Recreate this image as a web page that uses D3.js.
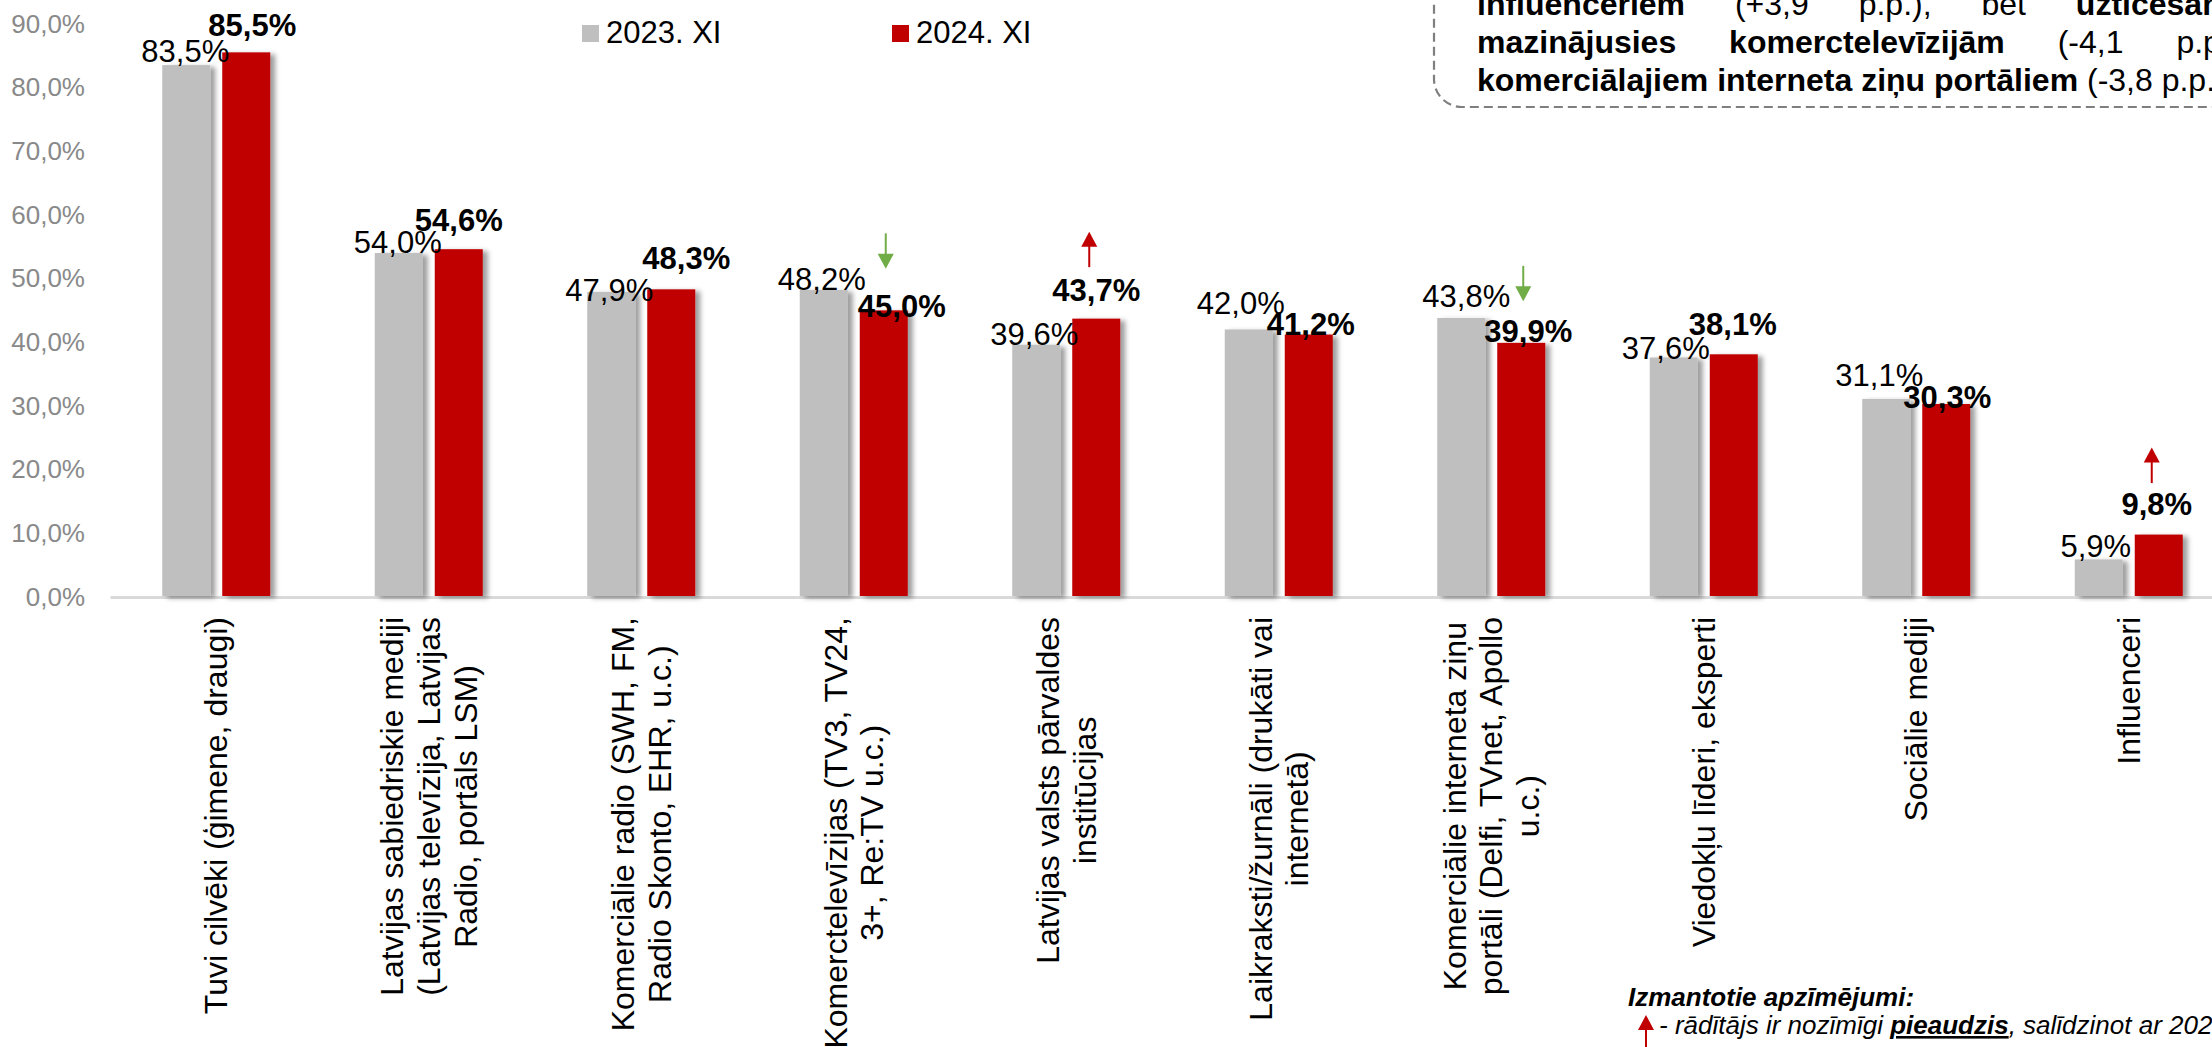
<!DOCTYPE html>
<html>
<head>
<meta charset="utf-8">
<script src="https://cdn.jsdelivr.net/npm/d3@7"></script>
<style>
  html, body { margin: 0; padding: 0; background: #ffffff; }
  svg { display: block; font-family: "Liberation Sans", Arial, sans-serif; }
</style>
</head>
<body>
<svg id="chart" width="2212" height="1047"></svg>
<script>
// ---------------- DATA ----------------
const categories = [
  "Tuvi cilvēki (ģimene, draugi)",
  "Latvijas sabiedriskie mediji\n(Latvijas televīzija, Latvijas\nRadio, portāls LSM)",
  "Komerciālie radio (SWH, FM,\nRadio Skonto, EHR, u.c.)",
  "Komerctelevīzijas (TV3, TV24,\n3+, Re:TV u.c.)",
  "Latvijas valsts pārvaldes\ninstitūcijas",
  "Laikraksti/žurnāli (drukāti vai\ninternetā)",
  "Komerciālie interneta ziņu\nportāli (Delfi, TVnet, Apollo\nu.c.)",
  "Viedokļu līderi, eksperti",
  "Sociālie mediji",
  "Influenceri"
];
const seriesNames = ["2023. XI", "2024. XI"];
const values2023 = [83.5, 54.0, 47.9, 48.2, 39.6, 42.0, 43.8, 37.6, 31.1, 5.9];
const values2024 = [85.5, 54.6, 48.3, 45.0, 43.7, 41.2, 39.9, 38.1, 30.3, 9.8];
const yTicks = [0, 10, 20, 30, 40, 50, 60, 70, 80, 90];
// significant change markers (2024 vs 2023)
const significance = [null, null, null, "down", "up", null, "down", null, null, "up"];

// ---------------- LAYOUT (label nudges, not data) ----------------
const grayNudge = [[-1,-3],[-1,0],[-2,9],[-2,0],[-2,0],[-8,-15],[5,-11],[-8,2],[-7,-13],[-3,-2]];
const redNudge  = [[6,2],[0,0],[15,-2],[18,25],[0,0],[2,18],[7,17],[-1,-1],[1,22],[-2,-2]];

const seriesColors = ["#BFBFBF", "#C00000"];
const seriesValues = [values2023, values2024];

const W = 2212, H = 1047;
const svg = d3.select("#chart");
const defs = svg.append("defs");
const flt = defs.append("filter").attr("id", "shadow")
  .attr("x", "-30%").attr("y", "-10%").attr("width", "170%").attr("height", "125%");
flt.append("feDropShadow").attr("dx", 5).attr("dy", 2).attr("stdDeviation", 2.6)
  .attr("flood-color", "#000").attr("flood-opacity", 0.38);

const x = d3.scaleBand().domain(d3.range(categories.length)).range([110, 2235]);
const xs = d3.scaleBand().domain(seriesNames).range([-54, 54]).paddingInner(0.2);
const y = d3.scaleLinear().domain([0, 90]).range([597, 23.7]);
const fmt = v => v.toFixed(1).replace(".", ",") + "%";
const cx = i => x(i) + x.bandwidth() / 2;

// ---------------- Y AXIS ----------------
const yAxis = svg.append("g").attr("transform", "translate(85,0)")
  .call(d3.axisLeft(y).tickValues(yTicks).tickFormat(fmt).tickSize(0).tickPadding(0));
yAxis.select(".domain").remove();
yAxis.selectAll("text").attr("fill", "#898989").style("font-size", "26px")
  .style("font-family", "'Liberation Sans', Arial, sans-serif");

// ---------------- X AXIS ----------------
const xAxis = svg.append("g").attr("transform", "translate(0,597)")
  .call(d3.axisBottom(x).tickSize(0).tickSizeOuter(0).tickFormat(""));
xAxis.select(".domain").attr("stroke", "#D9D9D9").attr("stroke-width", 3);
xAxis.selectAll(".tick text").remove();

// ---------------- BARS ----------------
const catG = svg.append("g").selectAll("g").data(categories).join("g")
  .attr("transform", (d, i) => `translate(${cx(i)},0)`);
seriesNames.forEach((s, si) => {
  catG.append("rect")
    .attr("x", xs(s))
    .attr("width", xs.bandwidth())
    .attr("y", (d, i) => y(seriesValues[si][i]))
    .attr("height", (d, i) => y(0) - y(seriesValues[si][i]) - 1)
    .attr("fill", seriesColors[si])
    .attr("filter", "url(#shadow)");
});

// ---------------- DATA LABELS ----------------
const lblG = svg.append("g");
lblG.selectAll("text.g").data(values2023).join("text")
  .attr("x", (v, i) => cx(i) + xs(seriesNames[0]) + xs.bandwidth() / 2 + grayNudge[i][0])
  .attr("y", (v, i) => y(v) + grayNudge[i][1])
  .attr("text-anchor", "middle")
  .style("font-size", "31px").attr("fill", "#000")
  .text(fmt);
lblG.selectAll("text.r").data(values2024).join("text")
  .attr("x", (v, i) => cx(i) + xs(seriesNames[1]) + xs.bandwidth() / 2 + redNudge[i][0])
  .attr("y", (v, i) => y(v) - 18 + redNudge[i][1])
  .attr("text-anchor", "middle")
  .style("font-size", "31px").style("font-weight", "bold").attr("fill", "#000")
  .text(fmt);

// ---------------- SIGNIFICANCE ARROWS ----------------
function arrow(g, ax, yTail, yTip, color) {
  const dir = yTip > yTail ? 1 : -1;
  g.append("line").attr("x1", ax).attr("x2", ax)
    .attr("y1", yTail).attr("y2", yTip - dir * 12)
    .attr("stroke", color).attr("stroke-width", 2);
  g.append("path")
    .attr("d", `M${ax - 8},${yTip - dir * 15} L${ax + 8},${yTip - dir * 15} L${ax},${yTip} Z`)
    .attr("fill", color);
}
const arrG = svg.append("g");
significance.forEach((s, i) => {
  if (!s) return;
  const rc = cx(i) + xs(seriesNames[1]) + xs.bandwidth() / 2;
  const top = y(values2024[i]);
  if (s === "down") arrow(arrG, rc + 2, top - 77, top - 41.5, "#70AD47");
  else arrow(arrG, rc - 7, top - 51.5, top - 87, "#C00000");
});

// ---------------- CATEGORY LABELS ----------------
const lineH = 36.8;
catG.each(function (d, i) {
  const lines = d.split("\n");
  const g = d3.select(this).append("g").attr("transform", "translate(0,617) rotate(-90)");
  const n = lines.length;
  const texts = lines.map((ln, k) => g.append("text")
    .attr("y", (k - (n - 1) / 2) * lineH)
    .attr("dy", "0.35em")
    .attr("text-anchor", "middle")
    .style("font-size", "32px").attr("fill", "#000")
    .text(ln));
  const maxLen = d3.max(texts, t => t.node().getComputedTextLength());
  texts.forEach(t => t.attr("x", -maxLen / 2));
});

// ---------------- LEGEND ----------------
const leg = svg.append("g");
const legX = [582, 892];
seriesNames.forEach((s, si) => {
  leg.append("rect").attr("x", legX[si]).attr("y", 25).attr("width", 17).attr("height", 17)
    .attr("fill", seriesColors[si]);
  leg.append("text").attr("x", legX[si] + 24).attr("y", 43)
    .style("font-size", "31px").attr("fill", "#000").text(s);
});

// ---------------- TEXT BOX (top right) ----------------
const box = svg.append("g");
box.append("rect").attr("x", 1434).attr("y", -80).attr("width", 900).attr("height", 187)
  .attr("rx", 28).attr("ry", 28).attr("fill", "#fff")
  .attr("stroke", "#7F7F7F").attr("stroke-width", 2.2).attr("stroke-dasharray", "9,5");
const boxLines = [
  { y: 15, ws: 41, parts: [["influenceriem", true], [" (+3,9 p.p.), bet ", false], ["uzticēšanās", true]] },
  { y: 53, ws: 44, parts: [["mazinājusies komerctelevīzijām", true], [" (-4,1 p.p.),", false]] },
  { y: 91, ws: 0, parts: [["komerciālajiem interneta ziņu portāliem", true], [" (-3,8 p.p.).", false]] }
];
boxLines.forEach(l => {
  const t = box.append("text").attr("x", 1477).attr("y", l.y)
    .style("font-size", "32px").style("word-spacing", l.ws + "px").attr("fill", "#000");
  l.parts.forEach(p => t.append("tspan").style("font-weight", p[1] ? "bold" : "normal")
    .attr("xml:space", "preserve").text(p[0]));
});

// ---------------- NOTATION (bottom right) ----------------
const note = svg.append("g");
note.append("text").attr("x", 1628).attr("y", 1006)
  .style("font-size", "26px").style("font-weight", "bold").style("font-style", "italic")
  .attr("fill", "#000").text("Izmantotie apzīmējumi:");
arrow(note, 1646, 1050, 1015, "#C00000");
const ft = note.append("text").attr("x", 1659).attr("y", 1034)
  .style("font-size", "26px").style("font-style", "italic").attr("fill", "#000");
ft.append("tspan").text("- rādītājs ir nozīmīgi ");
ft.append("tspan").style("font-weight", "bold").style("text-decoration", "underline").text("pieaudzis");
ft.append("tspan").text(", salīdzinot ar 2023. gada novembri");
</script>
</body>
</html>
